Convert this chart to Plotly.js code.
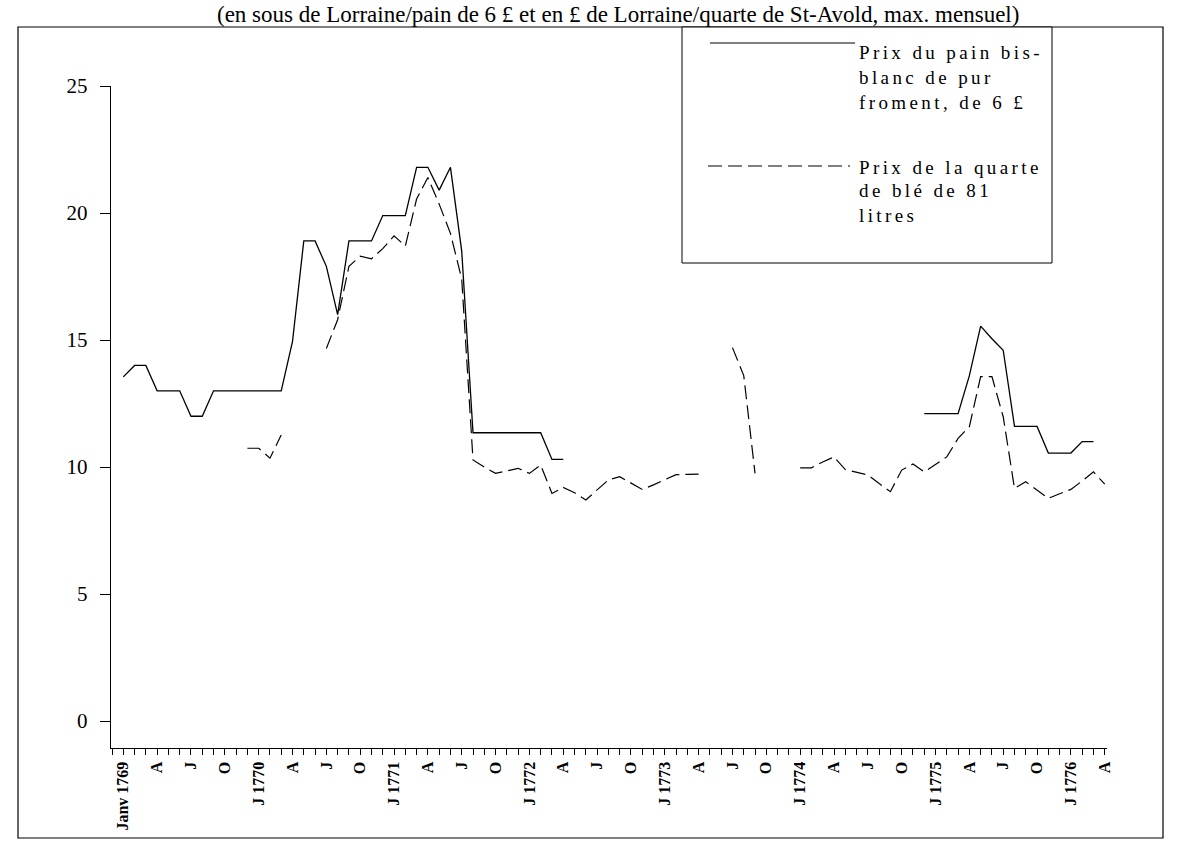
<!DOCTYPE html>
<html>
<head>
<meta charset="utf-8">
<script src="https://cdn.plot.ly/plotly-3.0.1.min.js"></script>
<style>
html,body{margin:0;padding:0;background:#fff;}
#chart{width:1194px;height:859px;}
#chart g.annotation:not([data-index="0"]) text.annotation-text{letter-spacing:3.4px;}
</style>
</head>
<body>
<div id="chart"></div>
<script>
// ---- categories: monthly, Jan 1769 .. Apr 1776 ----
const firstYear = 1769, firstMonth = 1, monthCount = 88;
const months = [];
for (let k = 0; k < monthCount; k++) {
  const y = firstYear + Math.floor((firstMonth - 1 + k) / 12);
  const m = ((firstMonth - 1 + k) % 12) + 1;
  months.push(y + '-' + String(m).padStart(2, '0'));
}

// ---- tick labels (every 3 months) ----
const tickLabels = ["Janv 1769","A","J","O","J 1770","A","J","O","J 1771","A","J","O",
  "J 1772","A","J","O","J 1773","A","J","O","J 1774","A","J","O","J 1775","A","J","O",
  "J 1776","A"];
const tickMonths = ["1769-01","1769-04","1769-07","1769-10","1770-01","1770-04","1770-07","1770-10",
  "1771-01","1771-04","1771-07","1771-10","1772-01","1772-04","1772-07","1772-10",
  "1773-01","1773-04","1773-07","1773-10","1774-01","1774-04","1774-07","1774-10",
  "1775-01","1775-04","1775-07","1775-10","1776-01","1776-04"];
const yTicks = [0, 5, 10, 15, 20, 25];

// ---- series: price of bread (sous de Lorraine / 6 £ loaf) ----
const painBisBlanc = [
  13.55, 14.0, 14.0, 13.0, 13.0, 13.0, 12.0, 12.0, 13.0, 13.0,
  13.0, 13.0, 13.0, 13.0, 13.0, 14.95, 18.9, 18.9, 17.9, 16.0,
  18.9, 18.9, 18.9, 19.9, 19.9, 19.9, 21.8, 21.8, 20.9, 21.8,
  18.5, 11.35, 11.35, 11.35, 11.35, 11.35, 11.35, 11.35, 10.3, 10.3,
  null, null, null, null, null, null, null, null, null, null,
  null, null, null, null, null, null, null, null, null, null,
  null, null, null, null, null, null, null, null, null, null,
  null, 12.1, 12.1, 12.1, 12.1, 13.6, 15.55, 15.05, 14.6, 11.6,
  11.6, 11.6, 10.55, 10.55, 10.55, 11.0, 11.0, null
];

// ---- series: price of the quarte of wheat (81 litres) ----
const bleQuarte = [
  null, null, null, null, null, null, null, null, null, null,
  null, 10.74, 10.74, 10.35, 11.26, null, null, null, 14.67, 15.8,
  17.9, 18.3, 18.2, 18.6, 19.1, 18.7, 20.55, 21.4, 20.35, 19.2,
  17.4, 10.28, 10.0, 9.75, 9.85, 9.95, 9.75, 10.08, 8.96, 9.2,
  8.99, 8.7, 9.1, 9.49, 9.62, 9.37, 9.12, 9.3, 9.5, 9.7,
  9.71, 9.72, null, null, 14.7, 13.6, 9.75, null, null, null,
  9.97, 9.97, 10.2, 10.4, 9.9, 9.8, 9.69, 9.35, 9.03, 9.88,
  10.12, 9.81, 10.1, 10.4, 11.13, 11.59, 13.56, 13.56, 11.98, 9.16,
  9.42, 9.1, 8.77, 8.95, 9.12, 9.45, 9.81, 9.33
];

const legendPain = ["Prix du pain bis-", "blanc de pur", "froment, de 6 £"];
const legendBle = ["Prix de la quarte", "de blé de 81", "litres"];
const titleText = "(en sous de Lorraine/pain de 6 £ et en £ de Lorraine/quarte de St-Avold, max. mensuel)";

// ---- geometry ----
const W = 1194, H = 859;
const mL = 111, mR = 87, mT = 86, mB = 111;
const plotW = W - mL - mR, plotH = H - mT - mB;
const px = x => (x - mL) / plotW;
const py = y => (H - mB - y) / plotH;

const xIdx = months.map((_, i) => i);
const tickIdx = tickMonths.map(m => months.indexOf(m));
const xRange = [-1.09, 87.2];
const yRange = [-1.06, 25];
const dashStyle = '14px,6px';

const traces = [
  {x: xIdx, y: painBisBlanc, type: 'scatter', mode: 'lines', name: legendPain.join(' '),
   line: {color: '#000', width: 1.3}, connectgaps: false, hoverinfo: 'y'},
  {x: xIdx, y: bleQuarte, type: 'scatter', mode: 'lines', name: legendBle.join(' '),
   line: {color: '#000', width: 1.2, dash: dashStyle}, connectgaps: false, hoverinfo: 'y'}
];

const serif = 'Liberation Serif, Times New Roman, serif';
const legFont = {family: serif, size: 19, color: '#000'};

const annotations = [
  {text: titleText, xref: 'paper', yref: 'paper', x: px(618), y: py(14),
   xanchor: 'center', yanchor: 'middle', showarrow: false,
   font: {family: serif, size: 23, color: '#000'}}
];
const legLineYs1 = [52, 77, 102], legLineYs2 = [167, 191, 215];
legendPain.forEach((t, k) => annotations.push({text: t, xref: 'paper', yref: 'paper', align: 'left',
  x: px(857), y: py(legLineYs1[k]), xanchor: 'left', yanchor: 'middle', showarrow: false, font: legFont}));
legendBle.forEach((t, k) => annotations.push({text: t, xref: 'paper', yref: 'paper', align: 'left',
  x: px(857), y: py(legLineYs2[k]), xanchor: 'left', yanchor: 'middle', showarrow: false, font: legFont}));

const frameTop = 27;
const shapes = [
  {type: 'rect', xref: 'paper', yref: 'paper', x0: px(18), x1: px(1163), y0: py(frameTop), y1: py(838),
   line: {color: '#000', width: 1.2}, fillcolor: 'rgba(0,0,0,0)', layer: 'below'},
  {type: 'rect', xref: 'paper', yref: 'paper', x0: px(682), x1: px(1052), y0: py(frameTop), y1: py(263),
   line: {color: '#000', width: 1}, fillcolor: '#fff', layer: 'above'},
  {type: 'line', xref: 'paper', yref: 'paper', x0: px(710), x1: px(855), y0: py(43), y1: py(43),
   line: {color: '#000', width: 1.2}},
  {type: 'line', xref: 'paper', yref: 'paper', x0: px(708), x1: px(850), y0: py(166), y1: py(166),
   line: {color: '#000', width: 1.2, dash: dashStyle}}
];

const layout = {
  width: W, height: H,
  margin: {l: mL, r: mR, t: mT, b: mB, pad: 0},
  paper_bgcolor: '#fff', plot_bgcolor: '#fff',
  showlegend: false,
  font: {family: serif, color: '#000'},
  xaxis: {range: xRange, tickmode: 'array', tickvals: tickIdx, ticktext: tickLabels, tickangle: -90,
    ticks: 'outside', ticklen: 6, tickwidth: 1, tickcolor: '#000',
    minor: {tickmode: 'linear', tick0: 0, dtick: 1, ticks: 'outside', ticklen: 6, tickwidth: 1, tickcolor: '#000', showgrid: false},
    showline: true, linecolor: '#000', linewidth: 1.3, showgrid: false, zeroline: false,
    tickfont: {family: serif, size: 16, color: '#000', weight: 'bold'}, fixedrange: true},
  xaxis2: {overlaying: 'x', anchor: 'y', side: 'bottom', range: xRange, tickmode: 'linear', tick0: 0, dtick: 1,
    ticks: 'inside', ticklen: 6, tickwidth: 1, tickcolor: '#000', showticklabels: false,
    showline: false, showgrid: false, zeroline: false, fixedrange: true},
  yaxis: {range: yRange, tickmode: 'array', tickvals: yTicks, ticks: 'outside', ticklen: 10, tickwidth: 1,
    tickcolor: '#000', showline: true, linecolor: '#000', linewidth: 1.3, showgrid: false, zeroline: false,
    tickfont: {family: serif, size: 21, color: '#000'}, ticklabelstandoff: 8, fixedrange: true},
  yaxis2: {overlaying: 'y', anchor: 'x', side: 'left', range: yRange, tickmode: 'array', tickvals: yTicks,
    ticks: 'inside', ticklen: 10, tickwidth: 1, tickcolor: '#000', showticklabels: false,
    showline: false, showgrid: false, zeroline: false, fixedrange: true},
  shapes: shapes,
  annotations: annotations
};

Plotly.newPlot('chart', traces, layout, {displayModeBar: false, staticPlot: true});
</script>
</body>
</html>
